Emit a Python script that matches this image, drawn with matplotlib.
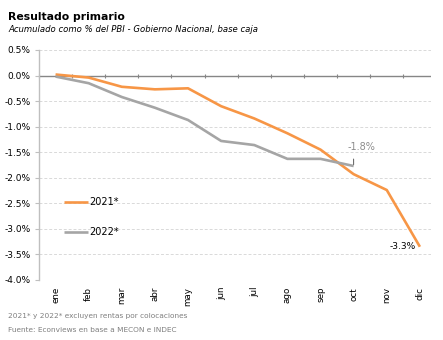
import numpy as np
import matplotlib.pyplot as plt

# datos
meses = ['ene', 'feb', 'mar', 'abr', 'may', 'jun', 'jul', 'ago', 'sep', 'oct', 'nov', 'dic']
r2021 = [0.02, -0.04, -0.22, -0.27, -0.25, -0.60, -0.84, -1.13, -1.45, -1.93, -2.24, -3.35]
r2022 = [-0.02, -0.15, -0.42, -0.63, -0.87, -1.28, -1.36, -1.63, -1.63, -1.77]
yticks = [0.5, 0.0, -0.5, -1.0, -1.5, -2.0, -2.5, -3.0, -3.5, -4.0]

naranja = '#F79646'
gris = '#A5A5A5'

fig = plt.figure(figsize=(4.43, 3.40), dpi=100)
ax = fig.add_axes([0.088, 0.1765, 0.886, 0.6765])

x = np.arange(len(meses))
l1, = ax.plot(x, r2021, color=naranja, lw=1.9, label='2021*', solid_capstyle='butt')
l2, = ax.plot(x[:len(r2022)], r2022, color=gris, lw=1.9, label='2022*', solid_capstyle='butt')

ax.set_xlim(-0.5, 11.35)
ax.set_ylim(-4.0, 0.5)
ax.set_yticks(yticks)
ax.set_yticklabels(['%.1f%%' % v for v in yticks], fontsize=6.5)
ax.set_xticks(x)
ax.set_xticklabels(meses, rotation=90, fontsize=6.3, va='top')
ax.tick_params(axis='x', length=0, pad=5)
ax.tick_params(axis='y', length=3, width=0.8, color='#BFBFBF', pad=3)

for v in yticks:
    if v != 0:
        ax.axhline(v, color='#D9D9D9', lw=0.7, ls=(0, (3, 2)), zorder=0)
ax.axhline(0, color='#868686', lw=1.0, zorder=1)

# marcas entre categorias sobre la linea del cero
eje0 = ax.secondary_xaxis((0 - (-4.0)) / 4.5)
eje0.set_xticks(np.arange(-0.5, 11.4, 1))
eje0.set_xticklabels([])
eje0.tick_params(length=3, direction='inout', color='#868686', width=0.8)
eje0.spines['top'].set_visible(False)
eje0.spines['bottom'].set_visible(False)

for s in ['top', 'right', 'bottom']:
    ax.spines[s].set_visible(False)
ax.spines['left'].set_color('#BFBFBF')
ax.spines['left'].set_linewidth(1.0)

# etiquetas de ultimo dato
ax.annotate('-1.8%', xy=(9, r2022[-1]), xytext=(9.25, -1.40), fontsize=7,
            ha='center', va='center', color='#8C8C8C',
            arrowprops=dict(arrowstyle='-', color='#595959', lw=0.7,
                            relpos=(0.2, 0.0), shrinkA=3, shrinkB=1))
ax.annotate('-3.3%', xy=(11, r2021[-1]), xytext=(10.88, r2021[-1]), fontsize=6.5,
            ha='right', va='center', color='black')

ax.legend(handles=[l1, l2], loc='upper left', bbox_to_anchor=(0.053, 0.378),
          frameon=False, fontsize=7, handlelength=2.5, handletextpad=0.1,
          labelspacing=2.1, borderaxespad=0)

fig.text(0.018, 0.965, 'Resultado primario', fontsize=7.8, fontweight='bold', va='top')
fig.text(0.018, 0.925, 'Acumulado como % del PBI - Gobierno Nacional, base caja',
         fontsize=6.1, style='italic', va='top')
fig.text(0.018, 0.070, '2021* y 2022* excluyen rentas por colocaciones',
         fontsize=5.3, color='#7F7F7F', va='center')
fig.text(0.018, 0.030, 'Fuente: Econviews en base a MECON e INDEC',
         fontsize=5.3, color='#7F7F7F', va='center')

fig.savefig('out.png', dpi=100)
